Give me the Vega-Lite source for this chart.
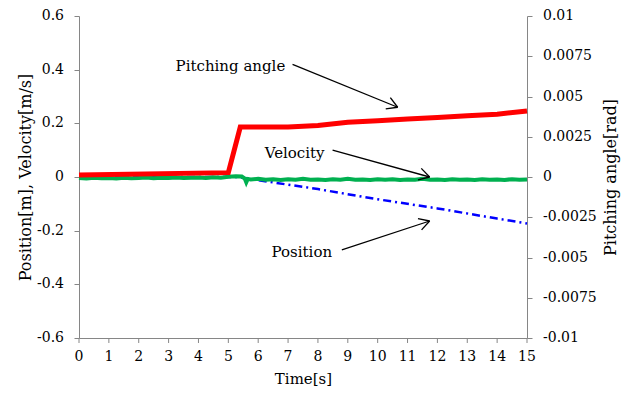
{
  "$schema": "https://vega.github.io/schema/vega-lite/v6.json",
  "width": 448,
  "height": 322,
  "autosize": {"type": "none"},
  "padding": {"left": 79, "top": 16, "right": 106, "bottom": 56},
  "background": "white",
  "config": {
    "font": "DejaVu Serif",
    "view": {"stroke": null},
    "axis": {
      "grid": false,
      "domainColor": "#868686",
      "tickColor": "#868686",
      "tickSize": 5,
      "labels": false,
      "titleFont": "DejaVu Serif",
      "titleFontWeight": "normal",
      "titleFontSize": 16,
      "titleColor": "#000000"
    }
  },
  "datasets": {
    "pos": [
      {"t": 0, "p": 0}, {"t": 5.3, "p": 0}, {"t": 6, "p": -0.012}, {"t": 8, "p": -0.045},
      {"t": 10, "p": -0.083}, {"t": 12, "p": -0.117}, {"t": 14, "p": -0.155}, {"t": 15, "p": -0.173}
    ],
    "vel": [
      {"t": 0, "v": -0.004}, {"t": 0.25, "v": -0.006}, {"t": 0.5, "v": -0.003}, {"t": 0.75, "v": -0.005},
      {"t": 1, "v": -0.004}, {"t": 1.25, "v": -0.006}, {"t": 1.5, "v": -0.003}, {"t": 1.75, "v": -0.005},
      {"t": 2, "v": -0.004}, {"t": 2.25, "v": -0.002}, {"t": 2.5, "v": -0.005}, {"t": 2.75, "v": -0.003},
      {"t": 3, "v": -0.004}, {"t": 3.25, "v": -0.002}, {"t": 3.5, "v": -0.004}, {"t": 3.75, "v": -0.003},
      {"t": 4, "v": -0.002}, {"t": 4.25, "v": -0.004}, {"t": 4.5, "v": -0.001}, {"t": 4.75, "v": -0.003},
      {"t": 5, "v": 0.001}, {"t": 5.25, "v": 0.003}, {"t": 5.45, "v": 0.002}, {"t": 5.55, "v": -0.006},
      {"t": 5.6, "v": -0.02}, {"t": 5.65, "v": -0.007}, {"t": 5.75, "v": -0.009}, {"t": 6, "v": -0.007},
      {"t": 6.25, "v": -0.010}, {"t": 6.5, "v": -0.008}, {"t": 6.75, "v": -0.011}, {"t": 7, "v": -0.008},
      {"t": 7.25, "v": -0.010}, {"t": 7.5, "v": -0.007}, {"t": 7.75, "v": -0.010}, {"t": 8, "v": -0.009},
      {"t": 8.25, "v": -0.011}, {"t": 8.5, "v": -0.008}, {"t": 8.75, "v": -0.010}, {"t": 9, "v": -0.007},
      {"t": 9.25, "v": -0.010}, {"t": 9.5, "v": -0.009}, {"t": 9.75, "v": -0.011}, {"t": 10, "v": -0.008},
      {"t": 10.25, "v": -0.010}, {"t": 10.5, "v": -0.008}, {"t": 10.75, "v": -0.011}, {"t": 11, "v": -0.009},
      {"t": 11.25, "v": -0.010}, {"t": 11.5, "v": -0.007}, {"t": 11.75, "v": -0.010}, {"t": 12, "v": -0.009},
      {"t": 12.25, "v": -0.011}, {"t": 12.5, "v": -0.008}, {"t": 12.75, "v": -0.010}, {"t": 13, "v": -0.009},
      {"t": 13.25, "v": -0.011}, {"t": 13.5, "v": -0.008}, {"t": 13.75, "v": -0.010}, {"t": 14, "v": -0.009},
      {"t": 14.25, "v": -0.011}, {"t": 14.5, "v": -0.008}, {"t": 14.75, "v": -0.010}, {"t": 15, "v": -0.009}
    ],
    "pitch": [
      {"t": 0, "a": 0.00012}, {"t": 5.0, "a": 0.00027}, {"t": 5.4, "a": 0.0031}, {"t": 7, "a": 0.0031},
      {"t": 8, "a": 0.0032}, {"t": 9, "a": 0.0034}, {"t": 10, "a": 0.0035}, {"t": 11, "a": 0.0036},
      {"t": 12, "a": 0.0037}, {"t": 13, "a": 0.0038}, {"t": 14, "a": 0.0039}, {"t": 15, "a": 0.0041}
    ],
    "arrows": [
      {"x1": 7.15, "y1": 0.420, "x2": 10.67, "y2": 0.260},
      {"x1": 10.67, "y1": 0.260, "x2": 10.425, "y2": 0.296},
      {"x1": 10.67, "y1": 0.260, "x2": 10.27, "y2": 0.254},
      {"x1": 8.49, "y1": 0.100, "x2": 11.74, "y2": 0.0},
      {"x1": 11.74, "y1": 0.0, "x2": 11.46, "y2": 0.032},
      {"x1": 11.74, "y1": 0.0, "x2": 11.35, "y2": -0.011},
      {"x1": 8.80, "y1": -0.272, "x2": 11.74, "y2": -0.164},
      {"x1": 11.74, "y1": -0.164, "x2": 11.35, "y2": -0.155},
      {"x1": 11.74, "y1": -0.164, "x2": 11.47, "y2": -0.197}
    ],
    "labels": [
      {"x": 5.07, "y": 0.413, "text": "Pitching angle"},
      {"x": 7.22, "y": 0.089, "text": "Velocity"},
      {"x": 7.46, "y": -0.279, "text": "Position"}
    ],
    "xticks": [
      {"v": 0, "l": "0"}, {"v": 1, "l": "1"}, {"v": 2, "l": "2"}, {"v": 3, "l": "3"},
      {"v": 4, "l": "4"}, {"v": 5, "l": "5"}, {"v": 6, "l": "6"}, {"v": 7, "l": "7"},
      {"v": 8, "l": "8"}, {"v": 9, "l": "9"}, {"v": 10, "l": "10"}, {"v": 11, "l": "11"},
      {"v": 12, "l": "12"}, {"v": 13, "l": "13"}, {"v": 14, "l": "14"}, {"v": 15, "l": "15"}
    ],
    "lticks": [
      {"v": -0.6, "l": "-0.6"}, {"v": -0.4, "l": "-0.4"}, {"v": -0.2, "l": "-0.2"}, {"v": 0, "l": "0"},
      {"v": 0.2, "l": "0.2"}, {"v": 0.4, "l": "0.4"}, {"v": 0.6, "l": "0.6"}
    ],
    "rticks": [
      {"v": -0.01, "l": "-0.01"}, {"v": -0.0075, "l": "-0.0075"}, {"v": -0.005, "l": "-0.005"},
      {"v": -0.0025, "l": "-0.0025"}, {"v": 0, "l": "0"}, {"v": 0.0025, "l": "0.0025"},
      {"v": 0.005, "l": "0.005"}, {"v": 0.0075, "l": "0.0075"}, {"v": 0.01, "l": "0.01"}
    ]
  },
  "resolve": {"scale": {"y": "independent"}},
  "layer": [
    {
      "layer": [
        {
          "data": {"name": "pitch"},
          "mark": {"type": "line", "color": "#FF0000", "strokeWidth": 5, "opacity": 0},
          "encoding": {
            "x": {"field": "t", "type": "quantitative", "title": "Time[s]", "scale": {"domain": [0, 15], "nice": false},
                  "axis": {"ticks": false, "labels": false, "titlePadding": 33, "titleFont": "DejaVu Serif", "titleFontSize": 15}},
            "y": {"field": "a", "type": "quantitative", "title": "Pitching angle[rad]", "scale": {"domain": [-0.01, 0.01], "nice": false},
                  "axis": {"orient": "right", "labels": false, "values": [-0.01,-0.0075,-0.005,-0.0025,0,0.0025,0.005,0.0075,0.01], "titlePadding": 70, "titleAngle": 270, "titleBaseline": "top", "titleFont": "DejaVu Serif", "titleFontSize": 16}}
          }
        },
        {
          "data": {"name": "rticks"},
          "mark": {"type": "text", "font": "DejaVu Serif", "fontSize": 14, "color": "#000000", "align": "left", "baseline": "middle", "dx": 16},
          "encoding": {
            "x": {"datum": 15, "type": "quantitative"},
            "y": {"field": "v", "type": "quantitative", "title": "Pitching angle[rad]"},
            "text": {"field": "l"}
          }
        }
      ]
    },
    {
      "layer": [
        {
          "data": {"name": "pos"},
          "mark": {"type": "line", "color": "#0000FF", "strokeWidth": 2.5, "strokeDash": [8, 4, 2, 4]},
          "encoding": {
            "x": {"field": "t", "type": "quantitative", "title": "Time[s]"},
            "y": {"field": "p", "type": "quantitative", "title": "Position[m], Velocity[m/s]", "scale": {"domain": [-0.6, 0.6], "nice": false},
                  "axis": {"orient": "left", "labels": false, "values": [-0.6,-0.4,-0.2,0,0.2,0.4,0.6], "titlePadding": 40, "titleFont": "DejaVu Serif", "titleFontSize": 16}}
          }
        },
        {
          "data": {"name": "vel"},
          "mark": {"type": "line", "color": "#00B050", "strokeWidth": 4},
          "encoding": {
            "x": {"field": "t", "type": "quantitative", "title": "Time[s]"},
            "y": {"field": "v", "type": "quantitative", "title": "Position[m], Velocity[m/s]"}
          }
        },
        {
          "data": {"name": "arrows"},
          "mark": {"type": "rule", "color": "#000000", "strokeWidth": 1.3},
          "encoding": {
            "x": {"field": "x1", "type": "quantitative", "title": "Time[s]"},
            "y": {"field": "y1", "type": "quantitative", "title": "Position[m], Velocity[m/s]"},
            "x2": {"field": "x2"},
            "y2": {"field": "y2"}
          }
        },
        {
          "data": {"name": "labels"},
          "mark": {"type": "text", "font": "DejaVu Serif", "fontSize": 15, "color": "#000000", "align": "center", "baseline": "middle"},
          "encoding": {
            "x": {"field": "x", "type": "quantitative", "title": "Time[s]"},
            "y": {"field": "y", "type": "quantitative", "title": "Position[m], Velocity[m/s]"},
            "text": {"field": "text"}
          }
        },
        {
          "data": {"name": "lticks"},
          "mark": {"type": "text", "font": "DejaVu Serif", "fontSize": 14, "color": "#000000", "align": "right", "baseline": "middle", "dx": -15},
          "encoding": {
            "x": {"datum": 0, "type": "quantitative"},
            "y": {"field": "v", "type": "quantitative", "title": "Position[m], Velocity[m/s]"},
            "text": {"field": "l"}
          }
        },
        {
          "data": {"name": "xticks"},
          "mark": {"type": "rule", "color": "#868686", "strokeWidth": 1},
          "encoding": {
            "x": {"field": "v", "type": "quantitative", "title": "Time[s]"},
            "y": {"datum": -0.6, "type": "quantitative"},
            "y2": {"datum": -0.6186}
          }
        },
        {
          "data": {"name": "xticks"},
          "mark": {"type": "text", "font": "DejaVu Serif", "fontSize": 14, "color": "#000000", "align": "center", "baseline": "middle", "dy": 19},
          "encoding": {
            "x": {"field": "v", "type": "quantitative", "title": "Time[s]"},
            "y": {"datum": -0.6, "type": "quantitative"},
            "text": {"field": "l"}
          }
        }
      ]
    },
    {
      "data": {"name": "pitch"},
      "mark": {"type": "line", "color": "#FF0000", "strokeWidth": 5},
      "encoding": {
        "x": {"field": "t", "type": "quantitative", "title": "Time[s]"},
        "y": {"field": "a", "type": "quantitative", "axis": null, "scale": {"domain": [-0.01, 0.01], "nice": false}}
      }
    }
  ]
}
